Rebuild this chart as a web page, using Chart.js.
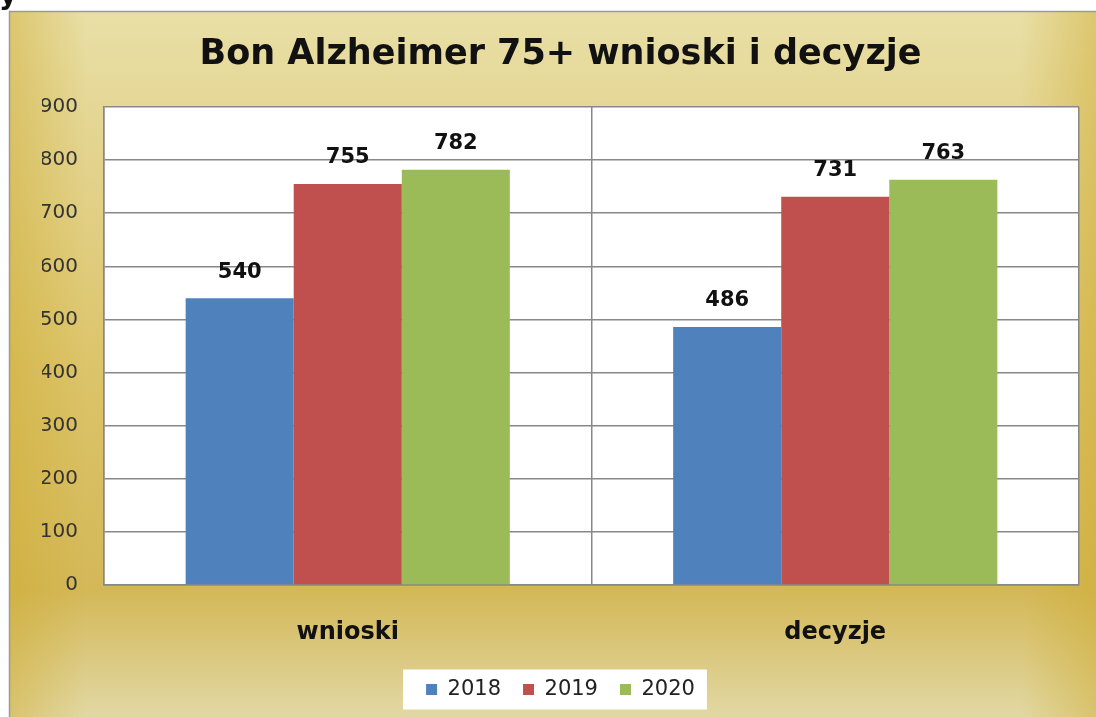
<!DOCTYPE html>
<html><head><meta charset="utf-8">
<script src="https://cdn.jsdelivr.net/npm/chart.js@4/dist/chart.umd.min.js"></script>
<style>
html,body{margin:0;padding:0;background:#fff;overflow:hidden;}
#wrap{position:relative;width:1096px;height:717px;overflow:hidden;}
#c{position:absolute;left:0;top:0;}
#frag{position:absolute;left:-1px;top:-22px;font:bold 28px "DejaVu Sans";color:#111;line-height:34px;}
</style></head><body>
<div id="wrap"><canvas id="c" width="1096" height="717"></canvas><div id="frag">y</div></div>
<script>
const categories = ['wnioski', 'decyzje'];
const seriesNames = ['2018', '2019', '2020'];
const values2018 = [540, 486];
const values2019 = [755, 731];
const values2020 = [782, 763];
const yTicks = [0, 100, 200, 300, 400, 500, 600, 700, 800, 900];
const seriesColors = ['#4f81bd', '#c0504d', '#9bbb59'];
const titleText = 'Bon Alzheimer 75+ wnioski i decyzje';

const FONT = 'DejaVu Sans';

const bgPlugin = {
  id: 'bg',
  beforeDraw(chart) {
    const {ctx, width, height, chartArea: a} = chart;
    ctx.save();
    ctx.fillStyle = '#fff';
    ctx.fillRect(0, 0, width, height);
    const fx = 10, fy = 12;
    const g = ctx.createLinearGradient(0, fy, 0, height);
    g.addColorStop(0, '#e9dfa6');
    g.addColorStop(0.15, '#e4d694');
    g.addColorStop(0.5, '#dcc46a');
    g.addColorStop(0.82, '#d4b858');
    g.addColorStop(1, '#e2d8a4');
    ctx.fillStyle = g;
    ctx.fillRect(fx, fy, width - fx, height - fy);
    const h = ctx.createLinearGradient(fx, 0, width, 0);
    h.addColorStop(0, 'rgba(205,170,45,0.45)');
    h.addColorStop(0.07, 'rgba(205,170,45,0)');
    h.addColorStop(0.93, 'rgba(205,170,45,0)');
    h.addColorStop(1, 'rgba(205,170,45,0.45)');
    ctx.fillStyle = h;
    ctx.fillRect(fx, fy, width - fx, height - fy);
    ctx.strokeStyle = '#9a9a9a';
    ctx.lineWidth = 1.5;
    ctx.beginPath();
    ctx.moveTo(fx - 0.5, height + 2);
    ctx.lineTo(fx - 0.5, fy - 0.5);
    ctx.lineTo(width + 2, fy - 0.5);
    ctx.stroke();
    ctx.fillStyle = '#fff';
    ctx.fillRect(a.left, a.top, a.right - a.left, a.bottom - a.top);
    const hb = chart.legend && chart.legend.legendHitBoxes;
    if (hb && hb.length) {
      let l = Infinity, r = -Infinity, cy = 0;
      hb.forEach(b => { l = Math.min(l, b.left); r = Math.max(r, b.left + b.width); cy = b.top + b.height / 2; });
      ctx.fillStyle = '#fff';
      ctx.fillRect(l - 23, cy - 20, (r + 12) - (l - 23), 40);
    }
    ctx.restore();
  }
};

const labelPlugin = {
  id: 'vlabels',
  afterDatasetsDraw(chart) {
    const ctx = chart.ctx;
    ctx.save();
    ctx.fillStyle = '#111';
    ctx.font = 'bold 21px "' + FONT + '"';
    ctx.textAlign = 'center';
    ctx.textBaseline = 'middle';
    chart.data.datasets.forEach((ds, i) => {
      const meta = chart.getDatasetMeta(i);
      meta.data.forEach((bar, j) => {
        ctx.fillText(String(ds.data[j]), bar.x, bar.y - 26);
      });
    });
    ctx.restore();
  }
};

const seriesValues = [values2018, values2019, values2020];

new Chart(document.getElementById('c'), {
  type: 'bar',
  data: {
    labels: categories,
    datasets: seriesNames.map((n, i) => ({
      label: n,
      data: seriesValues[i],
      backgroundColor: seriesColors[i],
      borderWidth: 0,
      categoryPercentage: 0.665,
      barPercentage: 1.0
    }))
  },
  options: {
    responsive: false,
    animation: false,
    devicePixelRatio: 1,
    layout: {padding: {left: 42, right: 17, top: 0, bottom: 7}},
    plugins: {
      title: {
        display: true, text: titleText, color: '#111',
        font: {family: FONT, size: 35, weight: 'bold'},
        padding: {top: 34, bottom: 31}
      },
      legend: {
        position: 'bottom',
        labels: {boxWidth: 11, boxHeight: 11, padding: 22, color: '#222', font: {family: FONT, size: 21}}
      },
      tooltip: {enabled: false}
    },
    scales: {
      x: {
        grid: {color: '#888', lineWidth: 1.5, drawTicks: false},
        border: {color: '#888', width: 1.5},
        ticks: {color: '#111', padding: 33, font: {family: FONT, size: 24, weight: 'bold'}},
        afterFit(s) { s.height = 72; }
      },
      y: {
        min: 0, max: 900,
        afterBuildTicks(s) { s.ticks = yTicks.map(v => ({value: v})); },
        ticks: {padding: 26, color: '#333', font: {family: FONT, size: 20}},
        grid: {color: '#888', lineWidth: 1.5, drawTicks: false},
        border: {color: '#888', width: 1.5},
        afterFit(s) { s.width = 62; }
      }
    }
  },
  plugins: [bgPlugin, labelPlugin]
});
</script>
</body></html>
